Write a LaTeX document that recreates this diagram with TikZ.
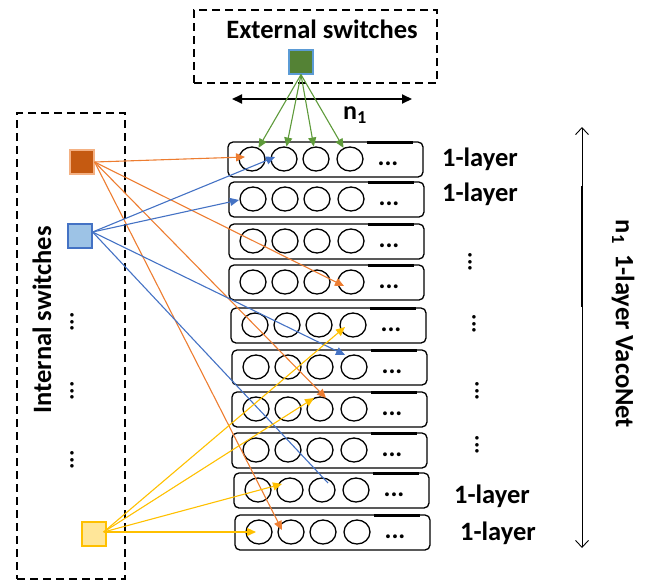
\documentclass[tikz,border=0pt]{standalone}
\usepackage{fontspec}
\setmainfont{Carlito}
\usetikzlibrary{arrows.meta,calc,shapes.geometric}
\definecolor{sqgreen}{HTML}{548235}
\definecolor{lgreen}{HTML}{5E9A3A}
\definecolor{sqorange}{HTML}{C55A11}
\definecolor{lorange}{HTML}{ED7D31}
\definecolor{bdorange}{HTML}{F4B183}
\definecolor{sqblue}{HTML}{9DC3E6}
\definecolor{lblue}{HTML}{4472C4}
\definecolor{bdblue}{HTML}{5B9BD5}
\definecolor{sqyellow}{HTML}{FFE699}
\definecolor{lyellow}{HTML}{FFC000}
\tikzset{
  bigtext/.style={font=\fontsize{26.5}{30}\selectfont\bfseries, inner sep=0pt},
  midtext/.style={font=\fontsize{26}{30}\selectfont\bfseries, inner sep=0pt},
  dotstext/.style={font=\fontsize{26}{30}\selectfont\bfseries, inner sep=0pt},
  dashbox/.style={draw, line width=1.3pt, dash pattern=on 8pt off 5pt},
  rowbox/.style={draw, line width=1.3pt, rounded corners=5pt, minimum width=195pt, minimum height=35pt, inner sep=0pt},
  cell/.style={draw, line width=1.3pt, ellipse, minimum width=26pt, minimum height=24pt, inner sep=0pt},
  sw/.style={draw, line width=1.2pt, minimum size=24pt, inner sep=0pt},
  conn/.style={line width=1.1pt, -{Triangle[length=9pt,width=8pt]}},
  vdots/.style={font=\fontsize{24}{28}\selectfont\bfseries, rotate=90, inner sep=0pt},
}
\begin{document}
\begin{tikzpicture}[x=1pt,y=-1pt]
\useasboundingbox (0,0) rectangle (647,581);
% dashed boxes
\node[dashbox, minimum width=243pt, minimum height=73pt, inner sep=0pt] (extbox) at (315.5,46.5) {};
\node[dashbox, minimum width=108pt, minimum height=466pt, inner sep=0pt] (intbox) at (71,346) {};
\node[bigtext] (exttext) at (322,29) {External switches};
\node[bigtext, rotate=90] (inttext) at (42,320) {Internal switches};
% switches
\node[sw, fill=sqgreen, draw=bdblue] (gs) at (301,62) {};
\node[sw, fill=sqorange, draw=bdorange] (os) at (82,162) {};
\node[sw, fill=sqblue, draw=lblue] (bs) at (80,236) {};
\node[sw, fill=sqyellow, draw=lyellow] (ys) at (94,534) {};
% left dots
\node[vdots] (ld1) at (72,322) {...};
\node[vdots] (ld2) at (72,391) {...};
\node[vdots] (ld3) at (72,460) {...};
% rows
\foreach \i/\l/\t in {1/228/142,2/229/182,3/229/224,4/229/265,5/231/308,6/232/350,7/232/392,8/232/433,9/234/473,10/235/515}{
  \node[rowbox] (row\i) at ({\l+97.5},{\t+17.5}) {};
  \draw[line width=3pt] ({\l+139},\t) coordinate (tl\i) -- ({\l+185},\t) coordinate (tr\i);
  \foreach \j/\o in {1/24,2/56,3/88,4/122}{
    \node[cell] (r\i-\j) at ({\l+\o},{\t+17}) {};
  }
  \node[dotstext] (d\i) at ({\l+160},{\t+21.5}) {...};
}
% right labels
\node[bigtext] (lab1) at (480,159) {1-layer};
\node[bigtext] (lab2) at (480,194) {1-layer};
\node[bigtext] (lab9) at (492,496) {1-layer};
\node[bigtext] (lab10) at (498,533) {1-layer};
\node[vdots] (rd1) at (470,262) {...};
\node[vdots] (rd2) at (474,324) {...};
\node[vdots] (rd3) at (477,391) {...};
\node[vdots] (rd4) at (477,445) {...};
% n1 arrow
\coordinate (ha) at (232,99);
\coordinate (hb) at (412,99);
\draw[line width=2pt, {Triangle[length=10pt,width=9pt]}-{Triangle[length=10pt,width=9pt]}] (ha) -- (hb);
\node[midtext] (n1) at (355,115) {n\textsubscript{1}};
% vertical arrow
\coordinate (va) at (582,127);
\coordinate (vb) at (582,548);
\draw[line width=0.9pt, {Straight Barb[length=7pt,width=13pt]}-{Straight Barb[length=7pt,width=13pt]}] (va) -- (vb);
\draw[line width=2.5pt] (582,186) coordinate (vt1) -- (582,307) coordinate (vt2);
\node[bigtext, rotate=-90] (vlab) at (623,324) {n\textsubscript{1}\hspace{10pt}1-layer VacoNet};
% green connectors
\foreach \j in {1,2,3,4}{
  \draw[conn, lgreen] (gs.south) -- (r1-\j);
}
% orange
\draw[conn, lorange] (os.east) -- ($(r1-1)+(-7,-2)$);
\draw[conn, lorange] (os.east) -- ($(r4-4)+(-7,4)$);
\draw[conn, lorange] (os.east) -- ($(r7-3)+(6,-11)$);
\draw[conn, lorange] (os.east) -- ($(r10-2)+(-9,-2)$);
% blue
\coordinate (bo) at ($(bs.east)+(0,-4)$);
\draw[conn, lblue] (bo) -- ($(r1-2)+(-9,-2)$);
\draw[conn, lblue] (bo) -- ($(r2-1)+(-14,1)$);
\draw[conn, lblue] (bo) -- ($(r6-4)+(-9,-12)$);
\draw[line width=1.1pt, lblue] (bo) -- ($(r9-3)+(6,-7)$);
% yellow
\coordinate (yo) at ($(ys.east)+(-3,-2)$);
\draw[conn, lyellow] (yo) -- ($(r5-4)+(-8,2)$);
\draw[conn, lyellow] (yo) -- ($(r7-3)+(-6,-11)$);
\draw[conn, lyellow] (yo) -- ($(r9-2)+(-8,-6)$);
\draw[conn, lyellow] (yo) -- ($(r10-1)+(-3,0)$);
\end{tikzpicture}
\end{document}
